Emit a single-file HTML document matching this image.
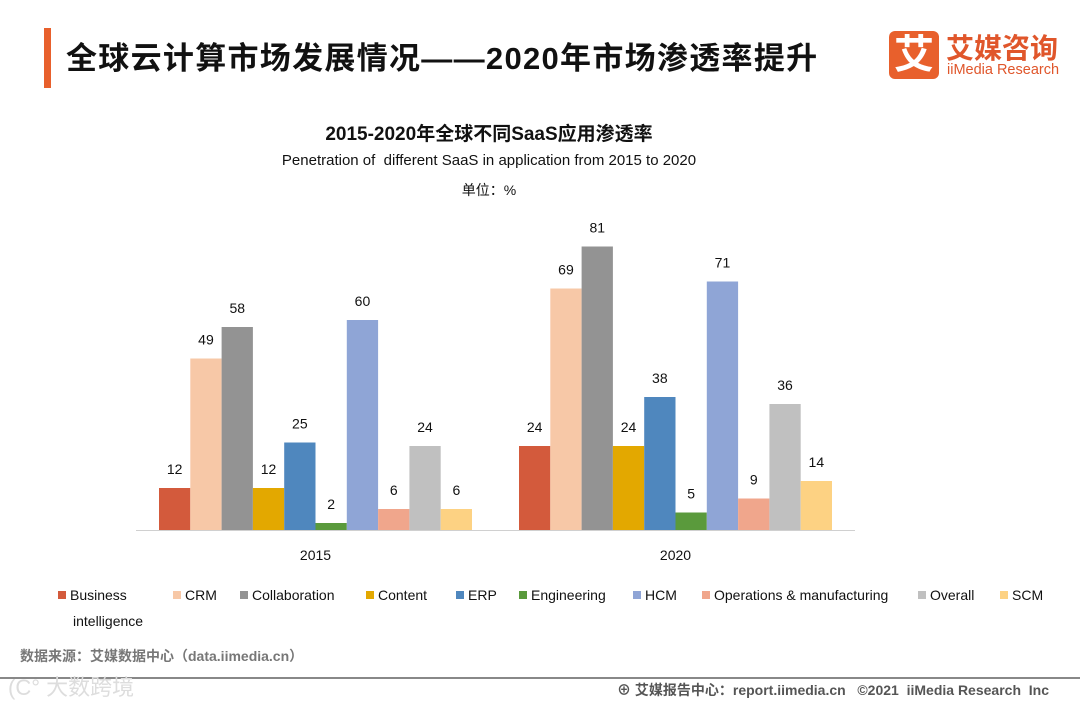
<!DOCTYPE html>
<html><head><meta charset="utf-8"><style>
body{margin:0;width:1080px;height:702px;background:#fff;overflow:hidden;font-family:"Liberation Sans","Noto Sans CJK SC",sans-serif;position:relative}
.a{position:absolute;white-space:nowrap}
</style></head><body>
<div class="a" style="left:44px;top:28px;width:7px;height:60px;background:#e8602c"></div>
<div class="a" style="left:66px;top:33px;font-size:31px;font-weight:bold;color:#111;letter-spacing:1.3px">全球云计算市场发展情况——2020年市场渗透率提升</div>
<div class="a" style="left:889px;top:31px;width:50px;height:48px;background:#e8602c;border-radius:6px;color:#fff;font-size:40px;font-weight:bold;text-align:center;line-height:48px">艾</div>
<div class="a" style="left:946px;top:27px;font-size:28px;font-weight:bold;color:#e0562b">艾媒咨询</div>
<div class="a" style="left:947px;top:62px;font-size:14.5px;color:#e0562b">iiMedia Research</div>
<div class="a" style="left:0;width:978px;text-align:center;top:119px;font-size:19px;font-weight:bold;color:#111">2015-2020年全球不同SaaS应用渗透率</div>
<div class="a" style="left:0;width:978px;text-align:center;top:152px;font-size:15px;color:#111">Penetration of&nbsp; different SaaS in application from 2015 to 2020</div>
<div class="a" style="left:0;width:978px;text-align:center;top:180px;font-size:14px;color:#111">单位：%</div>
<svg class="a" style="left:0;top:0" width="1080" height="702">
<g id="bars"></g>
<line x1="136" y1="530.5" x2="855" y2="530.5" stroke="#d0d0d0"/>
<g id="legend"></g>
</svg>
<div class="a" style="left:20px;top:646px;font-size:14px;font-weight:bold;color:#777">数据来源：艾媒数据中心（data.iimedia.cn）</div>
<div class="a" style="left:0;top:677px;width:1080px;height:2px;background:#888"></div>
<div class="a" style="left:8px;top:670px;font-size:22px;color:#ddd">(C° 大数跨境</div>
<div class="a" style="left:617px;top:680px;font-size:14px;font-weight:bold;color:#555">⊕ 艾媒报告中心：report.iimedia.cn&nbsp;&nbsp; ©2021&nbsp; iiMedia Research&nbsp; Inc</div>
<script>
const years=["2015","2020"];
const seriesNames=["Business intelligence","CRM","Collaboration","Content","ERP","Engineering","HCM","Operations & manufacturing","Overall","SCM"];
const v2015=[12,49,58,12,25,2,60,6,24,6];
const v2020=[24,69,81,24,38,5,71,9,36,14];
const colors=["#d35a3c","#f7c8a7","#939393","#e3a800","#4f87be","#5a9a3c","#8fa5d6","#f0a68c","#c0c0c0","#fdd283"];
const NS="http://www.w3.org/2000/svg";
const base=530,scale=3.5,bw=31.3,groupStart=[159,519];
const y=v=>base-v*scale;
const g=document.getElementById('bars');
[v2015,v2020].forEach((vals,gi)=>{
 vals.forEach((v,i)=>{
  const x=groupStart[gi]+i*bw;
  const r=document.createElementNS(NS,'rect');
  r.setAttribute('x',x);r.setAttribute('y',y(v));r.setAttribute('width',bw);r.setAttribute('height',v*scale);r.setAttribute('fill',colors[i]);
  
  
  g.appendChild(r);
  const t=document.createElementNS(NS,'text');
  t.setAttribute('x',x+bw/2);t.setAttribute('y',y(v)-14);t.setAttribute('text-anchor','middle');t.setAttribute('font-size','14');t.setAttribute('fill','#111');
  t.textContent=v;
  
  
  g.appendChild(t);
 });
 const t=document.createElementNS(NS,'text');
 t.setAttribute('x',groupStart[gi]+bw*5);t.setAttribute('y',560);t.setAttribute('text-anchor','middle');t.setAttribute('font-size','14');t.setAttribute('fill','#111');
 t.textContent=years[gi];
 
 
 g.appendChild(t);
});
const lx=[58,173,240,366,456,519,633,702,918,1000];
const lg=document.getElementById('legend');
seriesNames.forEach((n,i)=>{
 const r=document.createElementNS(NS,'rect');
 r.setAttribute('x',lx[i]);r.setAttribute('y',591);r.setAttribute('width',8);r.setAttribute('height',8);r.setAttribute('fill',colors[i]);
 
 
 lg.appendChild(r);
 const t=document.createElementNS(NS,'text');
 t.setAttribute('x',lx[i]+12);t.setAttribute('y',600);t.setAttribute('font-size','14');t.setAttribute('fill','#111');
 t.textContent=i===0?"Business":n;
 
 
 lg.appendChild(t);
 if(i===0){const t2=document.createElementNS(NS,'text');t2.setAttribute('x',73);t2.setAttribute('y',626);t2.setAttribute('font-size','14');t2.setAttribute('fill','#111');t2.textContent="intelligence";
 
 
 lg.appendChild(t2);}
});
</script>
</body></html>
